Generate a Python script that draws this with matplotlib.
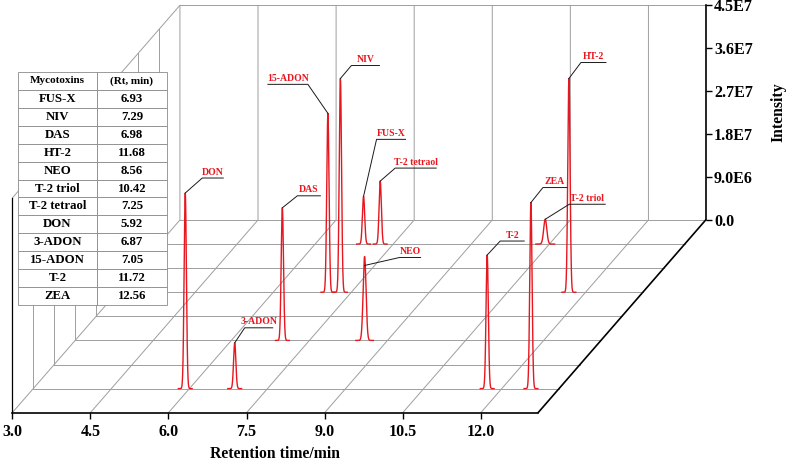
import numpy as np
import matplotlib
matplotlib.use('Agg')
import matplotlib.pyplot as plt
from matplotlib.transforms import IdentityTransform

plt.rcParams['font.family'] = ['Liberation Serif', 'DejaVu Serif']
plt.rcParams['font.weight'] = 'bold'

# ---------------- data ----------------
mycotoxins = ['FUS-X', 'NIV', 'DAS', 'HT-2', 'NEO', 'T-2 triol', 'T-2 tetraol',
              'DON', '3-ADON', '15-ADON', 'T-2', 'ZEA']
rt_labels = ['6.93', '7.29', '6.98', '11.68', '8.56', '10.42', '7.25',
             '5.92', '6.87', '7.05', '11.72', '12.56']
rt_min = [6.93, 7.29, 6.98, 11.68, 8.56, 10.42, 7.25, 5.92, 6.87, 7.05, 11.72, 12.56]
peak_height = [1.00e7, 4.48e7, 2.78e7, 4.48e7, 1.76e7, 0.52e7, 1.32e7,
               4.10e7, 0.96e7, 3.75e7, 2.80e7, 3.90e7]
trace_slot = [7, 5, 3, 5, 3, 7, 7, 1, 1, 5, 1, 1]     # depth slot (of 8) of each chromatogram
peak_sigma = [0.022, 0.022, 0.022, 0.022, 0.028, 0.03, 0.022,
              0.022, 0.022, 0.022, 0.022, 0.022]

x_ticks = [3.0, 4.5, 6.0, 7.5, 9.0, 10.5, 12.0]
x_tick_labels = ['3.0', '4.5', '6.0', '7.5', '9.0', '10.5', '12.0']
i_ticks = [0.0, 9.0e6, 1.8e7, 2.7e7, 3.6e7, 4.5e7]
i_tick_labels = ['0.0', '9.0E6', '1.8E7', '2.7E7', '3.6E7', '4.5E7']
x_start, x_end = 3.0, 13.1
i_max = 4.5e7
n_slots = 8

# ---------------- layout / style ----------------
DX = 3.22       # depth shift of the back wall (minutes)
DY = 4.04e7     # depth shift of the back wall (intensity units)
dx, dy = DX / n_slots, DY / n_slots

# label leader geometry in pixels: (start_dy, lead_dx, lead_dy, underline_len)
label_geom = {
    'FUS-X': (0, 13, 57, 29),
    'NIV': (0, 11, 13, 28),
    'DAS': (0, 15, 12, 23),
    'HT-2': (0, 12, 16, 25),
    'NEO': (-9, 35, -1, 21),
    'T-2 triol': (0, 24, 15, 36),
    'T-2 tetraol': (0, 15, 13, 41),
    'DON': (0, 17, 15, 21),
    '3-ADON': (0, 10, 15, 28),
    '15-ADON': (0, -20, 29, -40),
    'T-2': (0, 13, 14, 24),
    'ZEA': (0, 12, 15, 24),
}

W, H = 788, 463
fig = plt.figure(figsize=(W / 100, H / 100), dpi=100)
ax_l, ax_r, ax_b, ax_t = 12.3, 705.7, 412.7, 5.3
ax = fig.add_axes([ax_l / W, (H - ax_b) / H, (ax_r - ax_l) / W, (ax_b - ax_t) / H])
ax.set_xlim(x_start, x_end + DX)
ax.set_ylim(0, i_max + DY)
ax.patch.set_alpha(0)

grid_c = '#9e9e9e'
glw = 0.7
# floor lines parallel to the time axis
for k in range(1, n_slots + 1):
    ax.plot([x_start + k * dx, x_end + k * dx], [k * dy, k * dy], color=grid_c, lw=glw, zorder=1)
# floor diagonals + back-wall verticals at each tick
for t in x_ticks:
    ax.plot([t, t + DX, t + DX], [0, DY, DY + i_max], color=grid_c, lw=glw, zorder=1)
# back wall top edge
ax.plot([x_start + DX, x_end + DX], [DY + i_max, DY + i_max], color=grid_c, lw=glw, zorder=1)
# left wall verticals
for k in range(1, n_slots):
    ax.plot([x_start + k * dx] * 2, [k * dy, k * dy + i_max], color=grid_c, lw=glw, zorder=1)
# left wall top edge
ax.plot([x_start, x_start + DX], [i_max, i_max + DY], color=grid_c, lw=glw, zorder=1)
# right floor edge
ax.plot([x_end, x_end + DX], [0, DY], color='black', lw=1.2, zorder=3)

# ---------------- chromatogram peaks ----------------
red = '#e8161e'
tops = []
for name, rt, h, s, slot in zip(mycotoxins, rt_min, peak_height, peak_sigma, trace_slot):
    w = 6 * s
    t = np.linspace(rt - w, rt + w, 300)
    y = h * np.exp(-0.5 * ((t - rt) / s) ** 2)
    ax.plot(t + slot * dx, y + slot * dy, color=red, lw=1.0, zorder=4)
    tops.append((rt + slot * dx, h + slot * dy))

# ---------------- labels with leader lines ----------------
fig.canvas.draw()
ident = IdentityTransform()
for name, top in zip(mycotoxins, tops):
    sdy, lx, ly, ul = label_geom[name]
    px, py = ax.transData.transform(top)
    xs = [px, px + lx, px + lx + ul]
    ys = [py + sdy, py + ly, py + ly]
    ax.plot(xs, ys, color='#1a1a1a', lw=0.7, transform=ident, zorder=5, clip_on=False)
    ax.text(px + lx + ul / 2, py + ly + 1.5, name, transform=ident, ha='center', va='bottom',
            color=red, fontsize=7, fontweight='bold', zorder=6)

# ---------------- axes ----------------
ax.spines['top'].set_visible(False)
ax.spines['bottom'].set_bounds(x_start, x_end)
ax.spines['bottom'].set_linewidth(1.2)
ax.spines['right'].set_bounds(DY, DY + i_max)
ax.spines['right'].set_linewidth(1.2)
ax.spines['left'].set_bounds(0, i_max)
ax.spines['left'].set_linewidth(0.9)

ax.set_xticks(x_ticks)
ax.set_xticklabels(x_tick_labels)
ax.yaxis.tick_right()
ax.set_yticks([DY + v for v in i_ticks])
ax.set_yticklabels(i_tick_labels)
ax.tick_params(axis='x', direction='out', length=4, width=1, labelsize=11.5, pad=4)
ax.tick_params(axis='y', direction='out', length=4.5, width=1, labelsize=11.5, pad=1.5)
for lab in ax.get_xticklabels() + ax.get_yticklabels():
    lab.set_fontweight('bold')

fig.text(275 / W, 1 - 454 / H, 'Retention time/min', ha='center', va='center',
         fontsize=11.3, fontweight='bold')
fig.text(778 / W, 1 - 112 / H, 'Intensity', ha='center', va='center', rotation=90,
         fontsize=11.3, fontweight='bold')

# ---------------- table ----------------
tx0, tx1, ty0, ty1 = 18, 167, 72, 305
bbox = [(tx0 - ax_l) / (ax_r - ax_l), (ax_b - ty1) / (ax_b - ax_t),
        (tx1 - tx0) / (ax_r - ax_l), (ty1 - ty0) / (ax_b - ax_t)]
tbl = ax.table(cellText=[[m, r] for m, r in zip(mycotoxins, rt_labels)],
               colLabels=['Mycotoxins', '(Rt, min)'], cellLoc='center',
               colWidths=[79 / 149, 70 / 149], bbox=bbox)
tbl.auto_set_font_size(False)
tbl.set_zorder(10)
for (r, c), cell in tbl.get_celld().items():
    cell.set_edgecolor('#8a8a8a')
    cell.set_linewidth(0.6)
    cell.set_facecolor('white')
    txt = cell.get_text()
    txt.set_fontweight('bold')
    txt.set_fontsize(8 if r == 0 else 9.2)

fig.savefig('out.png', dpi=100)
